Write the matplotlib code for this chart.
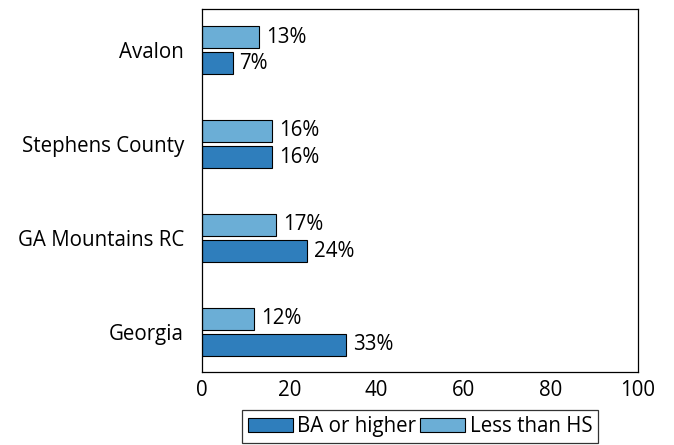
import matplotlib.pyplot as plt
import numpy as np

plt.rcParams['font.family'] = ['Open Sans', 'DejaVu Sans']

regions = ['Georgia', 'GA Mountains RC', 'Stephens County', 'Avalon']
ba_higher = [33, 24, 16, 7]
less_hs = [12, 17, 16, 13]

dark = '#2f7ebc'
light = '#6baed6'

fig = plt.figure(figsize=(6.74, 4.45), dpi=100)
ax = fig.add_axes([0.2997, 0.164, 0.6469, 0.8158])

y = np.arange(len(regions))
h = 0.235
off = 0.14
b1 = ax.barh(y - off, ba_higher, height=h, color=dark, edgecolor='black', linewidth=0.8, label='BA or higher')
b2 = ax.barh(y + off, less_hs, height=h, color=light, edgecolor='black', linewidth=0.8, label='Less than HS')

fs = 14.8

# value labels to the right of each bar
for bars in (b1, b2):
    for bar in bars:
        w = bar.get_width()
        ax.text(w + 1.6, bar.get_y() + bar.get_height() / 2, '%d%%' % w,
                va='center', ha='left', fontsize=fs)

ax.set_xlim(0, 100)
ax.set_ylim(-0.43, 3.44)
ax.set_xticks([0, 20, 40, 60, 80, 100])
ax.set_yticks(y)
ax.set_yticklabels(regions)
ax.tick_params(length=0, labelsize=fs)
ax.tick_params(axis='y', pad=13)
ax.tick_params(axis='x', pad=6)
for spine in ax.spines.values():
    spine.set_linewidth(0.9)

leg = ax.legend(loc='upper center', bbox_to_anchor=(0.5, -0.105), ncol=2,
                fontsize=fs, frameon=True, fancybox=False, edgecolor='black',
                handlelength=2.2, handleheight=0.65, handletextpad=0.2,
                columnspacing=0.2, borderpad=0.3, borderaxespad=0)
leg.get_frame().set_linewidth(0.9)

fig.savefig('out.png', dpi=100)
